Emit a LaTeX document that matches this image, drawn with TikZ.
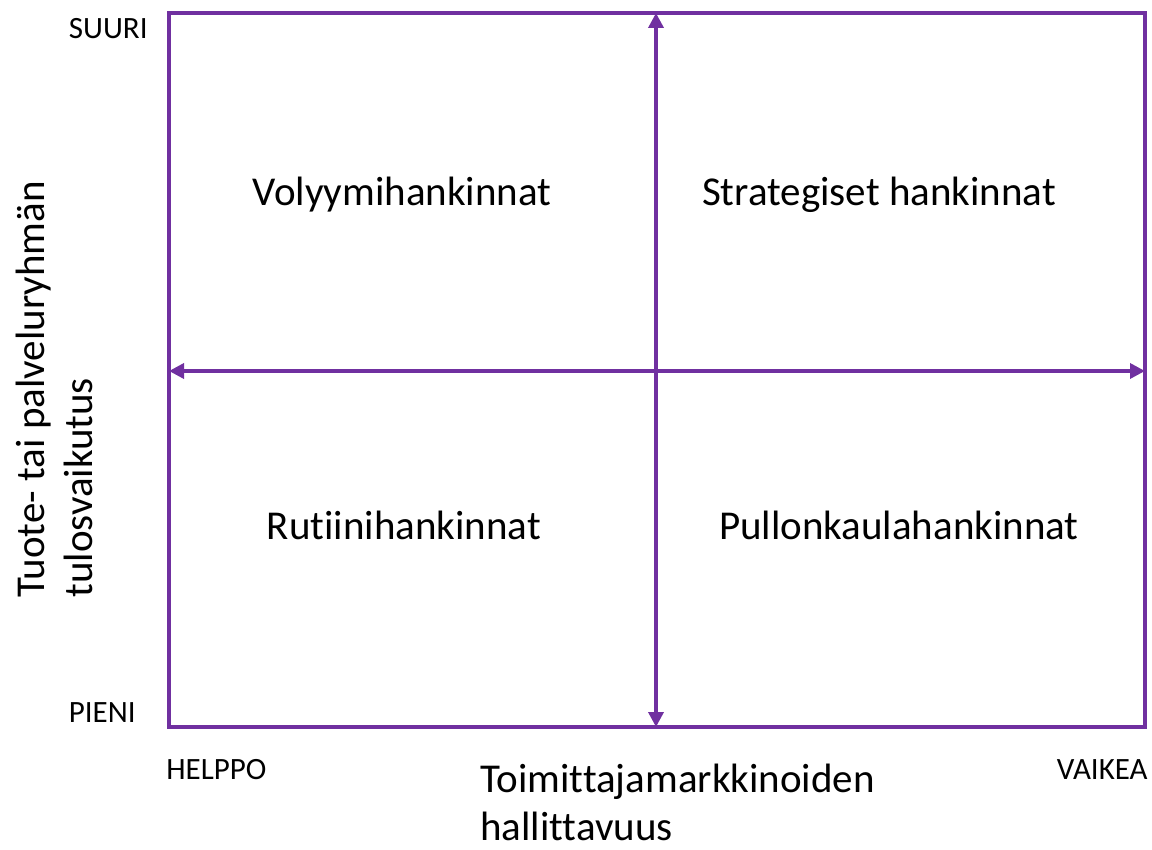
\documentclass[tikz,border=0pt]{standalone}
\usepackage{fontspec}
\setmainfont{Carlito}[Ligatures=CommonOff]
\usetikzlibrary{arrows.meta}
\definecolor{lila}{RGB}{112,48,160}
\tikzset{>={Triangle[length=7.5pt,width=7.5pt]}}
\tikzset{
  quad/.style = {inner sep=0pt, anchor=base, font=\fontsize{20.5}{25}\selectfont},
  axislabel/.style = {inner sep=0pt, align=left, font=\fontsize{20.5}{24}\selectfont},
  endlabel/.style = {inner sep=0pt, font=\fontsize{15.5}{19}\selectfont}
}

\begin{document}
\begin{tikzpicture}[x=0.5pt,y=-0.5pt]
  \useasboundingbox (0,0) rectangle (1152,850);
  % corners and midpoints of the matrix
  \coordinate (nw) at (169,13);
  \coordinate (se) at (1145,727);
  \coordinate (top) at (656,13);
  \coordinate (bot) at (656,727);
  \coordinate (lft) at (169,371);
  \coordinate (rgt) at (1145,371);
  \draw[lila, line width=1.75pt] (nw) rectangle (se);
  \draw[lila, line width=1.75pt, <->] (bot) -- (top);
  \draw[lila, line width=1.75pt, <->] (lft) -- (rgt);
  % quadrants
  \node[quad] (vol) at (402,206) {Volyymihankinnat};
  \node[quad] (str) at (879,206) {Strategiset hankinnat};
  \node[quad] (rut) at (404,539) {Rutiinihankinnat};
  \node[quad] (pul) at (899,539) {Pullonkaulahankinnat};
  % axes (base anchor sits on the last line)
  \node[endlabel, anchor=base east] (suuri) at (148,39) {SUURI};
  \node[endlabel, anchor=base east] (pieni) at (136,722) {PIENI};
  \node[endlabel, anchor=base west] (helppo) at (166,779) {HELPPO};
  \node[endlabel, anchor=base east] (vaikea) at (1148,779) {VAIKEA};
  \node[axislabel, anchor=base west] (xlab) at (480,840) {Toimittajamarkkinoiden\\hallittavuus};
  \node[axislabel, anchor=base west, rotate=90] (ylab) at (92,598) {Tuote- tai palveluryhmän\\tulosvaikutus};
\end{tikzpicture}
\end{document}
